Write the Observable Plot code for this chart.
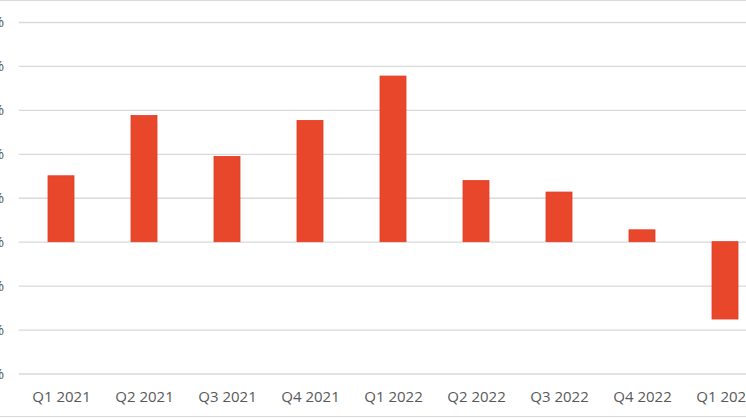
<!DOCTYPE html>
<html>
<head>
<meta charset="utf-8">
<script src="https://cdn.jsdelivr.net/npm/d3@7"></script>
<script src="https://cdn.jsdelivr.net/npm/@observablehq/plot@0.6"></script>
<style>
  html, body { margin: 0; padding: 0; background: #fff; }
  #wrap { position: relative; width: 746px; height: 419px; overflow: hidden; }
  .edge { position: absolute; left: 0; width: 746px; height: 1.3px; background: #d9d9d9; }
</style>
</head>
<body>
<div id="wrap">
  <div class="edge" style="top:0px"></div>
  <div class="edge" style="top:416.2px"></div>
</div>
<script>
const quarters = ["Q1 2021","Q2 2021","Q3 2021","Q4 2021","Q1 2022","Q2 2022","Q3 2022","Q4 2022","Q1 2023"];
const growth = [1.50, 2.87, 1.94, 2.76, 3.77, 1.39, 1.13, 0.27, -1.76];
const yTicks = [-3, -2, -1, 0, 1, 2, 3, 4, 5];

const data = quarters.map((q, i) => ({quarter: q, value: growth[i]}));

const chart = Plot.plot({
  width: 746,
  height: 419,
  marginLeft: 18.7,
  marginRight: -21.8,
  marginTop: 22,
  marginBottom: 45.5,
  style: {fontFamily: "'Open Sans', sans-serif", fontSize: "15px", color: "#595959", background: "transparent", overflow: "hidden"},
  x: {domain: quarters, range: [18.7, 767.8], paddingInner: 0.688, paddingOuter: 0.344, align: 0.5},
  y: {domain: [-3, 5], range: [373.5, 22]},
  marks: [
    Plot.ruleY(yTicks, {stroke: "#d9d9d9", strokeWidth: 1.3}),
    Plot.barY(data, {x: "quarter", y: "value", fill: "#e8472b", stroke: "#e63a22", strokeWidth: 0.8}),
    Plot.axisX({tickSize: 0, tickPadding: 17.8, label: null, fill: "#595959", fontSize: 15}),
    Plot.axisY({ticks: yTicks, tickFormat: d => d + "%", tickSize: 0, tickPadding: 15, label: null, fill: "#595959", fontSize: 15})
  ]
});
document.getElementById("wrap").prepend(chart);
</script>
</body>
</html>
